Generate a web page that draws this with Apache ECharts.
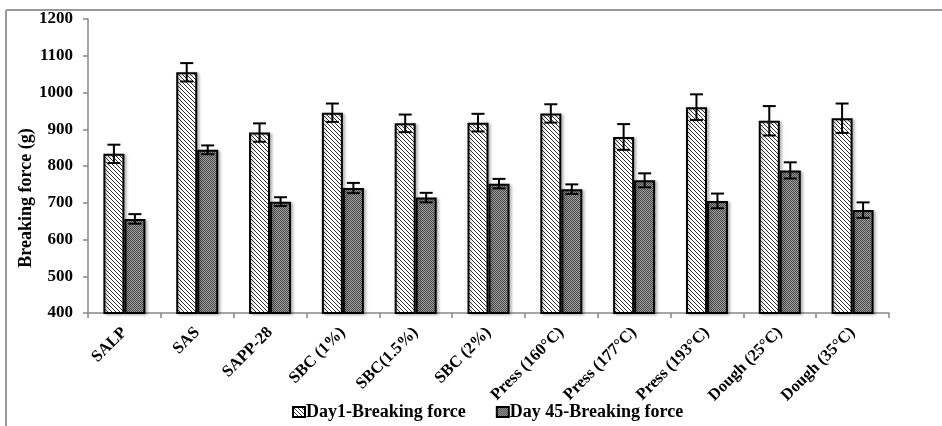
<!DOCTYPE html>
<html>
<head>
<meta charset="utf-8">
<script src="https://cdn.jsdelivr.net/npm/echarts@6/dist/echarts.min.js"></script>
<style>
  html, body { margin: 0; padding: 0; background: #fff; }
  #chart { width: 942px; height: 426px; }
</style>
</head>
<body>
<div id="chart"></div>
<script>
// Breaking force of samples measured on day 1 and day 45
const categories = ['SALP', 'SAS', 'SAPP-28', 'SBC (1%)', 'SBC(1.5%)', 'SBC (2%)',
  'Press (160°C)', 'Press (177°C)', 'Press (193°C)', 'Dough (25°C)', 'Dough (35°C)'];
const day1 = [833, 1055, 891, 945, 916, 918, 943, 879, 960, 923, 930];
const day1Err = [25, 25, 25, 25, 24, 24, 25, 35, 35, 40, 40];
const day45 = [656, 844, 703, 740, 714, 752, 737, 761, 705, 788, 680];
const day45Err = [13, 12, 12, 14, 13, 13, 13, 19, 20, 22, 21];
const yTicks = { min: 400, max: 1200, step: 100 };
const seriesNames = ['Day1-Breaking force', 'Day 45-Breaking force'];

const FONT = '"Liberation Serif", "Times New Roman", serif';
const BAR_W = 21;

// diagonal hatch fill
function hatchPattern() {
  const c = document.createElement('canvas');
  c.width = 4; c.height = 4;
  const g = c.getContext('2d');
  g.fillStyle = '#fff'; g.fillRect(0, 0, 4, 4);
  g.strokeStyle = '#333'; g.lineWidth = 1;
  g.beginPath();
  g.moveTo(0, 0); g.lineTo(4, 4);
  g.moveTo(-2, 2); g.lineTo(2, 6);
  g.moveTo(2, -2); g.lineTo(6, 2);
  g.stroke();
  return c;
}
// small checker fill
function checkerPattern() {
  const c = document.createElement('canvas');
  c.width = 2; c.height = 2;
  const g = c.getContext('2d');
  g.fillStyle = '#a0a0a0'; g.fillRect(0, 0, 2, 2);
  g.fillStyle = '#4a4a4a'; g.fillRect(0, 0, 1, 1); g.fillRect(1, 1, 1, 1);
  return c;
}

const hatch = { image: hatchPattern(), repeat: 'repeat' };
const checker = { image: checkerPattern(), repeat: 'repeat' };

function errorSeries(values, errs, offset) {
  return {
    type: 'custom',
    silent: true,
    z: 10,
    data: values.map((v, i) => [i, v - errs[i], v + errs[i]]),
    renderItem: function (params, api) {
      const lo = api.coord([api.value(0), api.value(1)]);
      const hi = api.coord([api.value(0), api.value(2)]);
      const x = lo[0] + offset;
      const cap = 6.5;
      const style = { stroke: '#000', lineWidth: 2 };
      return {
        type: 'group',
        children: [
          { type: 'line', shape: { x1: x, y1: hi[1], x2: x, y2: lo[1] }, style: style },
          { type: 'line', shape: { x1: x - cap, y1: hi[1], x2: x + cap, y2: hi[1] }, style: style },
          { type: 'line', shape: { x1: x - cap, y1: lo[1], x2: x + cap, y2: lo[1] }, style: style }
        ]
      };
    }
  };
}

const chart = echarts.init(document.getElementById('chart'), null, { renderer: 'canvas' });
chart.setOption({
  animation: false,
  backgroundColor: '#fff',
  grid: { left: 88, right: 53, top: 19, bottom: 113 },
  legend: {
    bottom: 0,
    left: 287,
    itemWidth: 12,
    itemHeight: 10,
    itemGap: 30,
    icon: 'rect',
    data: seriesNames,
    textStyle: { fontFamily: FONT, fontWeight: 'bold', fontSize: 18, color: '#000', padding: [0, 0, 0, -4] }
  },
  xAxis: {
    type: 'category',
    data: categories,
    axisLine: { lineStyle: { color: '#888', width: 1.5 } },
    axisTick: { show: true, alignWithLabel: false, length: 5, lineStyle: { color: '#888', width: 1.5 } },
    axisLabel: {
      rotate: 45, margin: 17, interval: 0,
      fontFamily: FONT, fontWeight: 'bold', fontSize: 16.5, color: '#000'
    }
  },
  yAxis: {
    type: 'value',
    min: yTicks.min, max: yTicks.max, interval: yTicks.step,
    splitLine: { show: false },
    axisLine: { show: true, lineStyle: { color: '#888', width: 1.5 } },
    axisTick: { show: true, length: 5, lineStyle: { color: '#888', width: 1.5 } },
    axisLabel: {
      margin: 15, fontFamily: FONT, fontWeight: 'bold', fontSize: 17, color: '#000',
      formatter: function (v) { return String(v); }
    }
  },
  series: [
    {
      name: seriesNames[0], type: 'bar', data: day1,
      barWidth: BAR_W, barGap: '0%',
      itemStyle: { color: hatch, borderColor: '#000', borderWidth: 2,
        shadowColor: 'rgba(0,0,0,0.25)', shadowBlur: 3, shadowOffsetX: 2, shadowOffsetY: 1 }
    },
    {
      name: seriesNames[1], type: 'bar', data: day45,
      barWidth: BAR_W, barGap: '0%',
      itemStyle: { color: checker, borderColor: '#000', borderWidth: 2,
        shadowColor: 'rgba(0,0,0,0.25)', shadowBlur: 3, shadowOffsetX: 2, shadowOffsetY: 1 }
    },
    errorSeries(day1, day1Err, -BAR_W / 2),
    errorSeries(day45, day45Err, BAR_W / 2)
  ],
  graphic: [
    { type: 'line', shape: { x1: 6, y1: 10, x2: 942, y2: 10 }, style: { stroke: '#999', lineWidth: 2 } },
    { type: 'line', shape: { x1: 6, y1: 10, x2: 6, y2: 426 }, style: { stroke: '#999', lineWidth: 2 } },
    {
      type: 'text', x: 26, y: 198, rotation: Math.PI / 2,
      style: {
        text: 'Breaking force (g)', fontFamily: FONT, fontWeight: 'bold', fontSize: 18,
        fill: '#000', align: 'center', verticalAlign: 'middle'
      }
    }
  ]
});
</script>
</body>
</html>
